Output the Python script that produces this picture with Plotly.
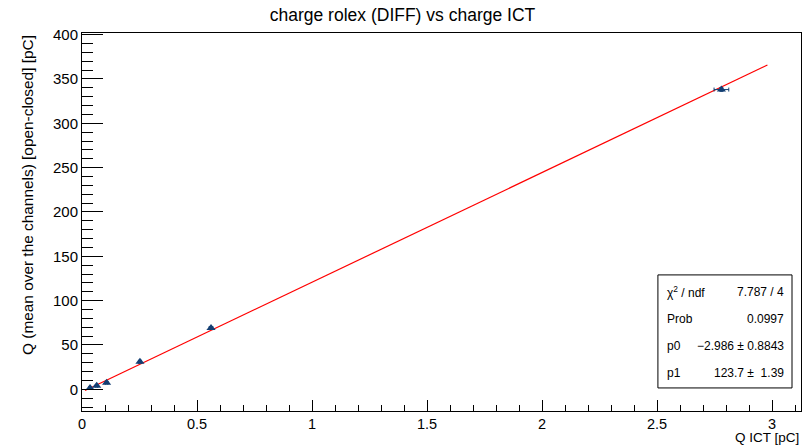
import plotly.graph_objects as go

# data
q_ict = [0.035, 0.064, 0.107, 0.252, 0.561, 2.78]
q_rolex = [1.5, 4.0, 7.5, 31.0, 69.0, 338.0]
err_x = [0.004, 0.004, 0.005, 0.005, 0.008, 0.032]
err_y = [1.0, 1.0, 1.2, 1.5, 1.5, 2.0]

# fit result
p0 = -2.986
p1 = 123.7
fit_range = [0.013, 2.98]

stat_labels = ["χ<sup>2</sup> / ndf", "Prob", "p0", "p1"]
stat_values = ["7.787 / 4", "0.0997", "\u22122.986 \u00b1 0.8843", "123.7 \u00b1  1.39"]

title = "charge rolex (DIFF) vs charge ICT"
xtitle = "Q ICT [pC]"
ytitle = "Q (mean over the channels) [open-closed] [pC]"

FONT = "Liberation Sans, Arial, sans-serif"
DARKBLUE = "#133f73"

fig = go.Figure()

fig.add_trace(go.Scatter(
    x=fit_range, y=[p0 + p1 * v for v in fit_range],
    mode="lines", line=dict(color="#ff0000", width=1.2), hoverinfo="skip",
    showlegend=False))

fig.add_trace(go.Scatter(
    x=q_ict, y=q_rolex, mode="markers",
    marker=dict(symbol="triangle-up", size=8, color=DARKBLUE),
    error_x=dict(type="data", array=err_x, color=DARKBLUE, thickness=1, width=2),
    error_y=dict(type="data", array=err_y, color=DARKBLUE, thickness=1, width=2),
    showlegend=False))

axis_common = dict(
    showgrid=False, zeroline=False, showline=True, linecolor="#000000",
    linewidth=1, mirror=True, ticks="inside", tickcolor="#000000",
)

fig.update_xaxes(
    range=[0, 3.126], tick0=0, dtick=0.5, ticklen=11,
    tickfont=dict(family=FONT, size=14.5, color="#000000"),
    minor=dict(ticks="inside", dtick=0.1, ticklen=6, tickcolor="#000000"),
    **axis_common)
fig.update_yaxes(
    range=[-24.5, 401.8], tick0=0, dtick=50, ticklen=21,
    tickfont=dict(family=FONT, size=15, color="#000000"),
    minor=dict(ticks="inside", dtick=10, ticklen=11, tickcolor="#000000"),
    **axis_common)

annotations = [
    dict(text=xtitle, xref="paper", yref="paper", x=1.0, y=-0.071,
         xanchor="right", yanchor="middle", showarrow=False,
         font=dict(family=FONT, size=13.5, color="#000000")),
    dict(text=ytitle, xref="paper", yref="paper", x=-0.0765, y=1.0,
         xanchor="center", yanchor="top", textangle=-90, showarrow=False,
         font=dict(family=FONT, size=15.4, color="#000000")),
]

row_y = [0.315, 0.243, 0.172, 0.101]
for lab, val, yy in zip(stat_labels, stat_values, row_y):
    annotations.append(dict(text=lab, xref="paper", yref="paper", x=0.811, y=yy,
                            xanchor="left", yanchor="middle", showarrow=False,
                            font=dict(family=FONT, size=12, color="#000000")))
    annotations.append(dict(text=val, xref="paper", yref="paper", x=0.979, y=yy,
                            xanchor="right", yanchor="middle", showarrow=False,
                            font=dict(family=FONT, size=12, color="#000000")))

fig.update_layout(
    width=805, height=446,
    margin=dict(l=82, r=4, t=33, b=35),
    paper_bgcolor="#ffffff", plot_bgcolor="#ffffff",
    title=dict(text=title, x=0.5, xanchor="center", y=1 - 15 / 446,
               yanchor="middle", font=dict(family=FONT, size=17.5, color="#000000")),
    annotations=annotations,
    shapes=[dict(type="rect", xref="paper", yref="paper",
                 x0=0.801, x1=0.9875, y0=0.061, y1=0.36,
                 line=dict(color="#000000", width=1), fillcolor="#ffffff",
                 layer="above")],
)

fig.write_html("out.html")
